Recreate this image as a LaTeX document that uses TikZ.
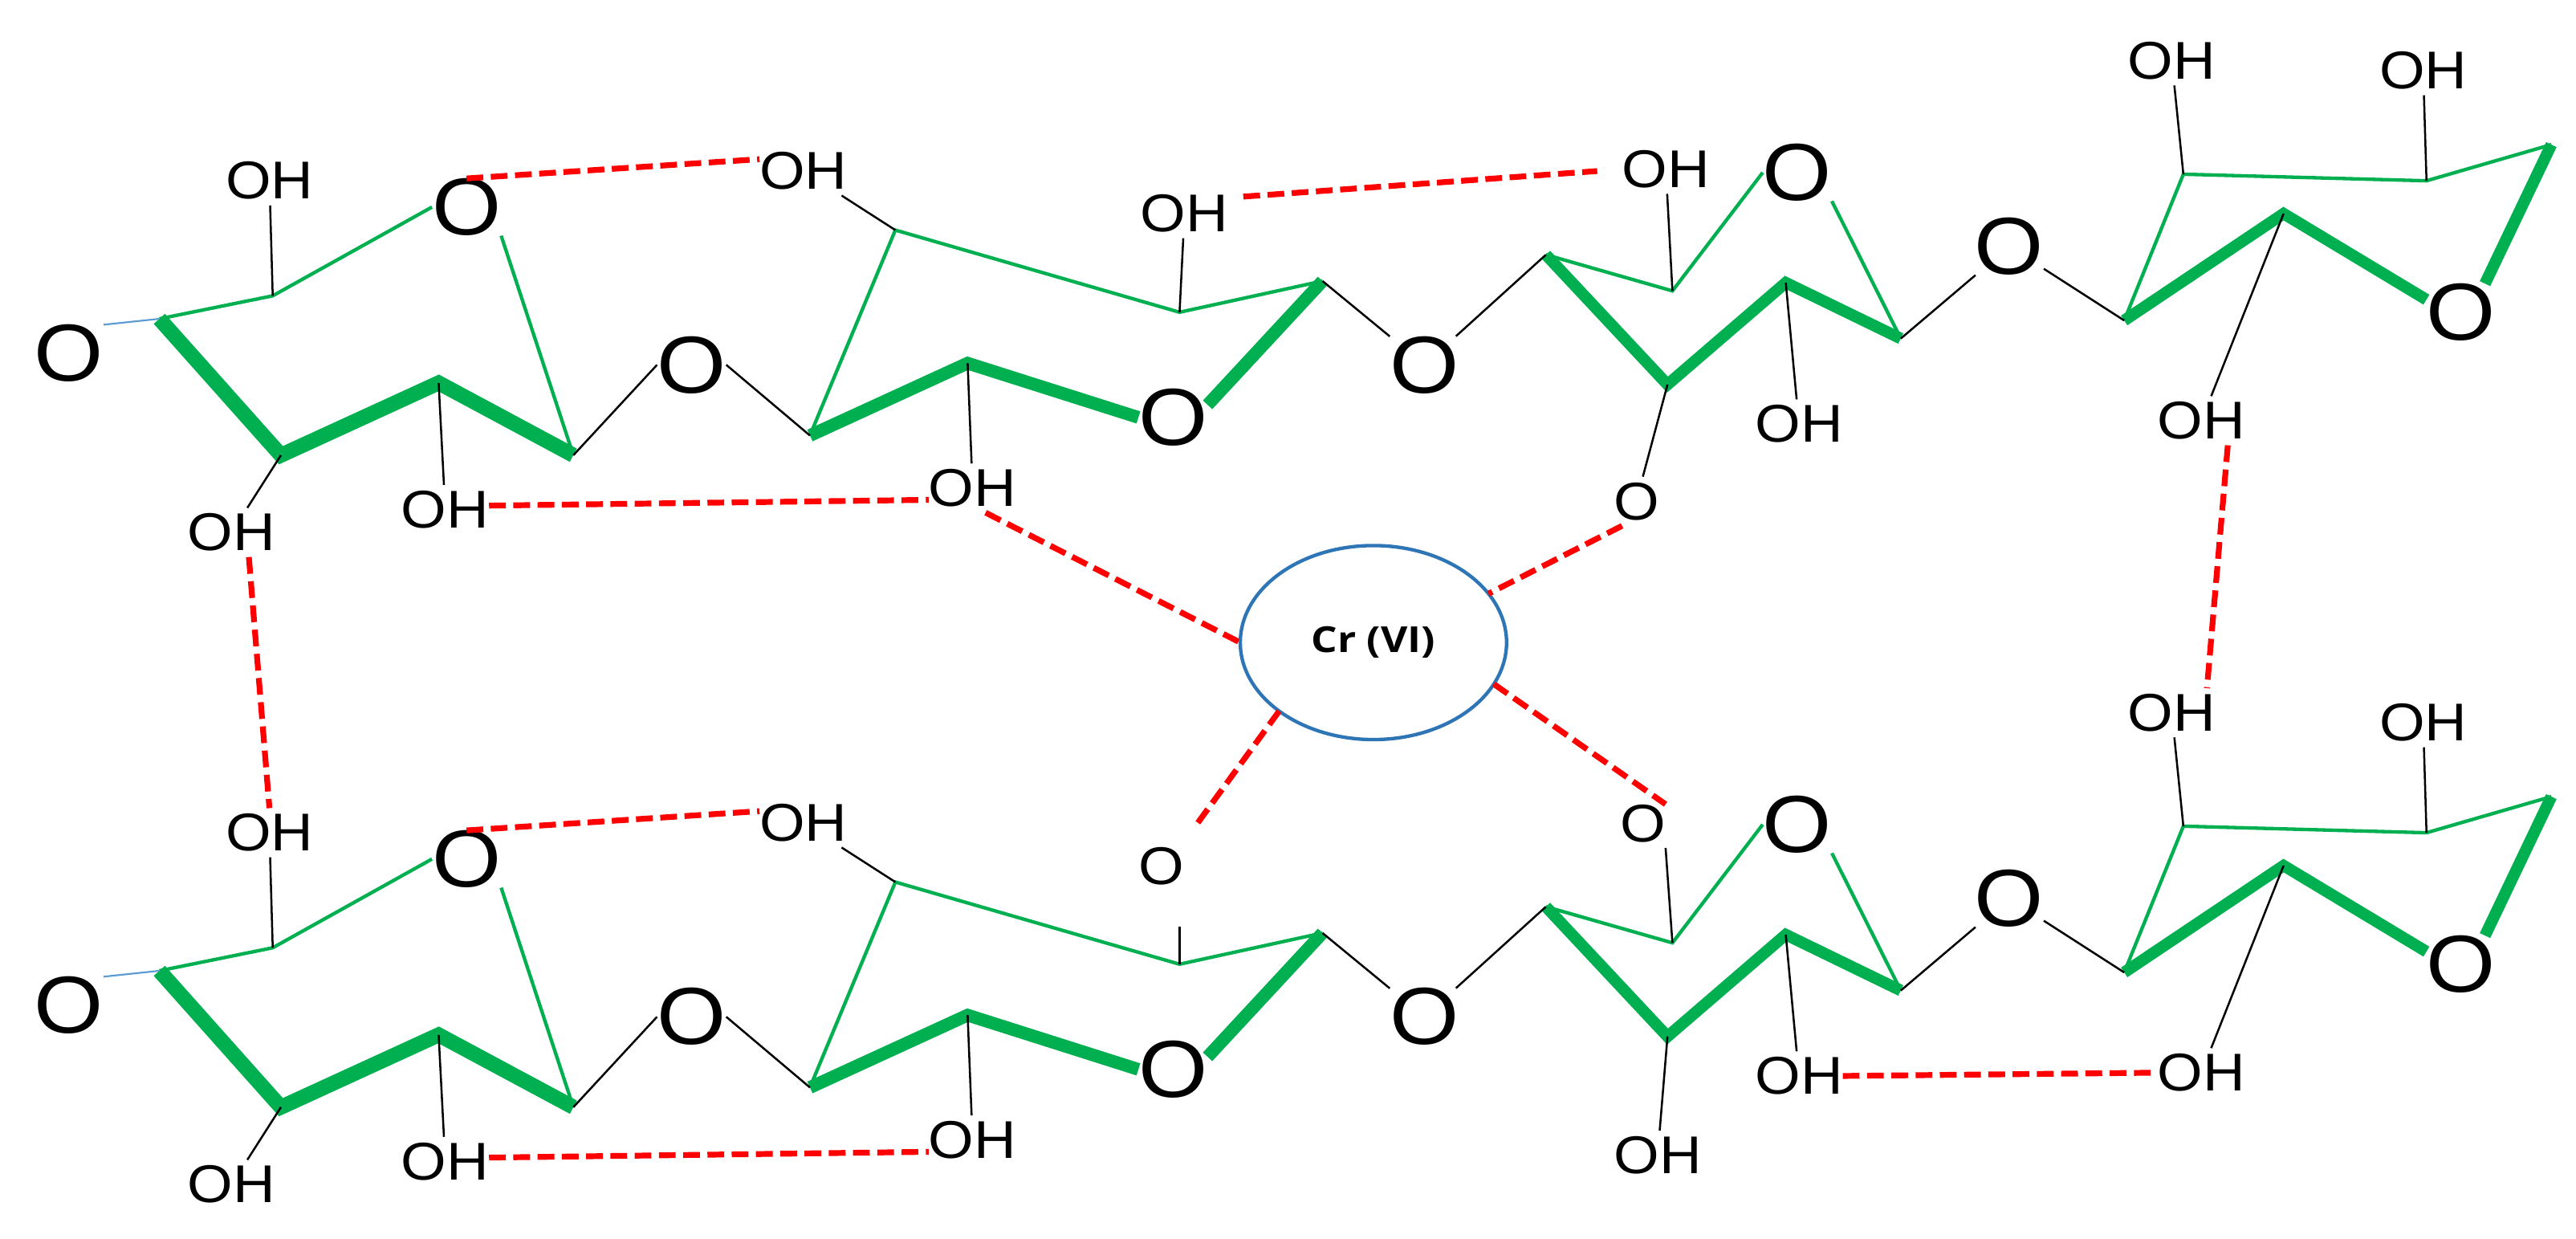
\documentclass[tikz,border=0pt]{standalone}
\usepackage{fontspec}
\usetikzlibrary{positioning,shapes.geometric}
\newfontfamily\chemfont[FakeStretch=1.1]{Liberation Sans}
\newfontfamily\metalfont[FakeStretch=1.15]{Open Sans}
\definecolor{ringgreen}{HTML}{00B050}
\definecolor{ionblue}{HTML}{2E75B6}
\definecolor{linkblue}{HTML}{5B9BD5}
\tikzset{
	ohlabel/.style={font=\chemfont\fontsize{9.2}{9.2}\selectfont, inner xsep=0pt, inner ysep=1pt, outer sep=0pt},
	ringo/.style={font=\chemfont\fontsize{14}{14}\selectfont, inner sep=0pt, outer sep=0pt},
	ringfront/.style={draw=ringgreen, line width=2pt},
	ringback/.style={draw=ringgreen, line width=0.6pt},
	bond/.style={draw=black, line width=0.35pt},
	hbond/.style={draw=red, line width=1pt, dash pattern=on 2.9pt off 1.3pt}
}

\begin{document}
\begin{tikzpicture}[x=0.01cm, y=-0.01cm, node distance=3.965cm]
	\useasboundingbox (0,0) rectangle (1568,753.5);

	% upper chain
	\coordinate (tc1) at (97,194);
	\coordinate (tc2) at (171,277);
	\coordinate (tc3) at (267,233);
	\coordinate (tc4) at (349,277);
	\coordinate (tc5) at (166,180);
	\coordinate (tc6) at (493,265);
	\coordinate (tc7) at (589,221);
	\coordinate (tc8) at (805,171);
	\coordinate (tc9) at (718,190);
	\coordinate (tc10) at (545,140);
	\coordinate (tc11) at (941,155);
	\coordinate (tc12) at (1015,234);
	\coordinate (tc13) at (1087,172);
	\coordinate (tc14) at (1157,206);
	\coordinate (tc15) at (1018,177);
	\coordinate (tc16) at (1293,195);
	\coordinate (tc17) at (1390,130);
	\coordinate (tc18) at (1329,106);
	\coordinate (tc19) at (1477,110);
	\coordinate (tc20) at (1553,88);

	\node[ringo] (to0) at (42,215) {O};
	\node[ringo] (to1) at (284,126) {O};
	\node[ringo] (to2) at (421,222) {O};
	\node[ringo] (to3) at (714,254) {O};
	\node[ringo] (to4) at (867,222) {O};
	\node[ringo] (to5) at (1094,105) {O};
	\node[ringo] (to6) at (1223,150) {O};
	\node[ringo] (to7) at (1498,190) {O};

	\node[ohlabel] (toh1) at (164,110) {OH};
	\node[ohlabel] (toh2) at (141,324) {OH};
	\node[ohlabel] (toh3) at (271,310) {OH};
	\node[ohlabel] (toh4) at (489,104) {OH};
	\node[ohlabel] (toh5) at (592,297) {OH};
	\node[ohlabel] (toh6) at (721,130) {OH};
	\node[ohlabel] (toh7) at (1014,103) {OH};
	\node[ohlabel] (toh8) at (1095,258) {OH};
	\node[ohlabel] (toh9) at (1322,37) {OH};
	\node[ohlabel] (toh10) at (1475,43) {OH};
	\node[ohlabel] (toh11) at (1340,256) {OH};
	\node[ohlabel] (tox) at (996,305) {O};

	% lower chain
	\node[coordinate] (bc1) [below of=tc1] {};
	\node[coordinate] (bc2) [below of=tc2] {};
	\node[coordinate] (bc3) [below of=tc3] {};
	\node[coordinate] (bc4) [below of=tc4] {};
	\node[coordinate] (bc5) [below of=tc5] {};
	\node[coordinate] (bc6) [below of=tc6] {};
	\node[coordinate] (bc7) [below of=tc7] {};
	\node[coordinate] (bc8) [below of=tc8] {};
	\node[coordinate] (bc9) [below of=tc9] {};
	\node[coordinate] (bc10) [below of=tc10] {};
	\node[coordinate] (bc11) [below of=tc11] {};
	\node[coordinate] (bc12) [below of=tc12] {};
	\node[coordinate] (bc13) [below of=tc13] {};
	\node[coordinate] (bc14) [below of=tc14] {};
	\node[coordinate] (bc15) [below of=tc15] {};
	\node[coordinate] (bc16) [below of=tc16] {};
	\node[coordinate] (bc17) [below of=tc17] {};
	\node[coordinate] (bc18) [below of=tc18] {};
	\node[coordinate] (bc19) [below of=tc19] {};
	\node[coordinate] (bc20) [below of=tc20] {};
	\coordinate (bstub) at (718,564);

	\node[ringo] (bo0) [below of=to0] {O};
	\node[ringo] (bo1) [below of=to1] {O};
	\node[ringo] (bo2) [below of=to2] {O};
	\node[ringo] (bo3) [below of=to3] {O};
	\node[ringo] (bo4) [below of=to4] {O};
	\node[ringo] (bo5) [below of=to5] {O};
	\node[ringo] (bo6) [below of=to6] {O};
	\node[ringo] (bo7) [below of=to7] {O};

	\node[ohlabel] (boh1) [below of=toh1] {OH};
	\node[ohlabel] (boh2) [below of=toh2] {OH};
	\node[ohlabel] (boh3) [below of=toh3] {OH};
	\node[ohlabel] (boh4) [below of=toh4] {OH};
	\node[ohlabel] (boh5) [below of=toh5] {OH};
	\node[ohlabel] (boh8) [below of=toh8] {OH};
	\node[ohlabel] (boh9) [below of=toh9] {OH};
	\node[ohlabel] (boh10) [below of=toh10] {OH};
	\node[ohlabel] (boh11) [below of=toh11] {OH};
	\node[ohlabel] (boh12) at (1009,703) {OH};
	\node[ohlabel] (box1) at (707,527) {O};
	\node[ohlabel] (box2) at (1000,501) {O};

	\node[ellipse, draw=ionblue, line width=0.6pt, minimum width=1.62cm, minimum height=1.18cm, inner sep=0pt, outer sep=0pt, font=\metalfont\bfseries\fontsize{6.2}{6.2}\selectfont] (cr) at (836,391) {Cr (VI)};

	% rings, upper
	\draw[ringfront, line width=2.6pt] (tc1) -- (tc2) -- (tc3) -- (tc4);
	\draw[ringfront, line width=2.2pt] (tc6) -- (tc7) -- (to3.west);
	\draw[ringfront, line width=2.2pt] (to3.20) -- (tc8);
	\draw[ringfront] (tc11) -- (tc12) -- (tc13) -- (tc14);
	\draw[ringfront] (tc16) -- (tc17) -- (to7.160);
	\draw[ringfront] (to7.50) -- (tc20);
	\draw[ringback] (tc1) -- (tc5) -- (to1.west);
	\draw[ringback] (to1.south east) -- (tc4);
	\draw[ringback] (tc6) -- (tc10) -- (tc9) -- (tc8);
	\draw[ringback] (tc11) -- (tc15) -- (to5.west);
	\draw[ringback] (to5.south east) -- (tc14);
	\draw[ringback] (tc16) -- (tc18) -- (tc19) -- (tc20);

	% rings, lower
	\draw[ringfront, line width=2.6pt] (bc1) -- (bc2) -- (bc3) -- (bc4);
	\draw[ringfront, line width=2.2pt] (bc6) -- (bc7) -- (bo3.west);
	\draw[ringfront, line width=2.2pt] (bo3.20) -- (bc8);
	\draw[ringfront] (bc11) -- (bc12) -- (bc13) -- (bc14);
	\draw[ringfront] (bc16) -- (bc17) -- (bo7.160);
	\draw[ringfront] (bo7.50) -- (bc20);
	\draw[ringback] (bc1) -- (bc5) -- (bo1.west);
	\draw[ringback] (bo1.south east) -- (bc4);
	\draw[ringback] (bc6) -- (bc10) -- (bc9) -- (bc8);
	\draw[ringback] (bc11) -- (bc15) -- (bo5.west);
	\draw[ringback] (bo5.south east) -- (bc14);
	\draw[ringback] (bc16) -- (bc18) -- (bc19) -- (bc20);

	\draw[linkblue, line width=0.3pt] (to0.north east) edge (tc1) (bo0.north east) edge (bc1);

	% bonds
	\draw[bond] (tc5) edge (toh1)
		(tc2) edge (toh2)
		(tc3) edge (toh3)
		(tc4) edge (to2.west)
		(to2.east) edge (tc6)
		(tc10) edge (toh4)
		(tc7) edge (toh5)
		(tc9) edge (toh6)
		(tc8) edge (to4)
		(to4) edge (tc11)
		(tc15) edge (toh7)
		(tc13) edge (toh8)
		(tc12) edge (tox)
		(tc14) edge (to6)
		(to6) edge (tc16)
		(tc18) edge (toh9)
		(tc19) edge (toh10)
		(tc17) edge (toh11);
	\draw[bond] (bc5) edge (boh1)
		(bc2) edge (boh2)
		(bc3) edge (boh3)
		(bc4) edge (bo2.west)
		(bo2.east) edge (bc6)
		(bc10) edge (boh4)
		(bc7) edge (boh5)
		(bc9) edge (bstub)
		(bc8) edge (bo4)
		(bo4) edge (bc11)
		(bc15) edge (box2.south east)
		(bc13) edge (boh8)
		(bc12) edge (boh12)
		(bc14) edge (bo6)
		(bo6) edge (bc16)
		(bc18) edge (boh9)
		(bc19) edge (boh10)
		(bc17) edge (boh11);

	% hydrogen bonds
	\draw[hbond] (to1.north) -- (toh4.165);
	\draw[hbond, shorten <=2.6pt, shorten >=4.3pt] (toh6.20) -- (toh7.west);
	\draw[hbond] (toh3.5) -- (toh5.195);
	\draw[hbond] (toh2.-55) -- (boh1.north);
	\draw[hbond] (toh11.-43) -- (boh9.35);
	\draw[hbond] (bo1.north) -- (boh4.165);
	\draw[hbond] (boh3.5) -- (boh5.195);
	\draw[hbond] (boh8.east) -- (boh11.west);
	\draw[hbond] (toh5.-62) -- (cr.west);
	\draw[hbond] (tox.-120) -- (cr.23);
	\draw[hbond] (cr.-19) -- (box2.40);
	\draw[hbond, shorten >=3pt] (cr.216) -- (box1.north east);
\end{tikzpicture}
\end{document}
